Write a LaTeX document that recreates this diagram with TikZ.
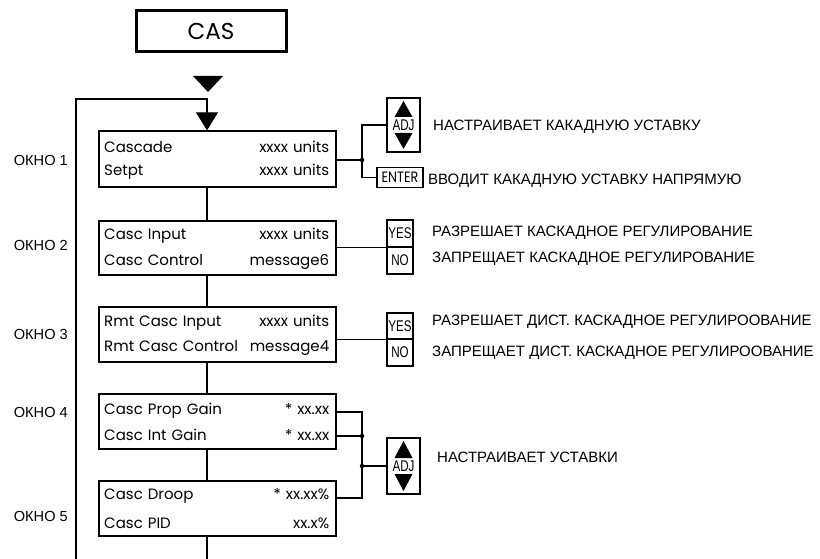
\documentclass[tikz,border=0pt]{standalone}
\usepackage{fontspec}
\setmainfont{Liberation Sans}
\newfontfamily\cad{Poppins}
\newfontfamily\cadnarrow{Poppins}[FakeStretch=0.85]
\newfontfamily\keyfont{Liberation Sans}[FakeStretch=0.75]
\usetikzlibrary{arrows.meta,calc}
\tikzset{
  conn/.style={draw=black, line width=1.1pt},
  winbox/.style={draw=black, line width=1.3pt, minimum width=237pt, inner sep=0pt},
  rowtext/.style={font=\cad\fontsize{15}{17}\selectfont, inner sep=0pt, text width=225pt, anchor=west},
  lbl/.style={font=\fontsize{15}{16}\selectfont, inner sep=0pt, anchor=west},
  okho/.style={font=\fontsize{14.6}{16}\selectfont, inner sep=0pt, anchor=east},
  jdot/.style={circle, fill=black, inner sep=0pt, minimum size=4.5pt},
  keybox/.style={draw=black, line width=1.1pt, inner sep=0pt},
  keytext/.style={font=\keyfont\fontsize{15.5}{16}\selectfont, inner sep=0pt},
  loopend/.style={-{Triangle[width=22pt,length=18pt]}},
}
\begin{document}
\begin{tikzpicture}[x=1pt,y=-1pt]
\useasboundingbox (0,0) rectangle (820,559);

% title
\node[draw=black, line width=3pt, minimum width=150pt, minimum height=41pt, inner sep=0pt,
      font=\cad\fontsize{23}{26}\selectfont] (cas) at (211,31.5) {CAS};
\fill (193,76) -- (223,76) -- (208,92) -- cycle;

% window boxes
\node[winbox, minimum height=56pt] (w1) at (217.5,159) {};
\node[winbox, minimum height=54pt] (w2) at (217.5,248) {};
\node[winbox, minimum height=55pt] (w3) at (217.5,334.5) {};
\node[winbox, minimum height=55pt] (w4) at (217.5,421.5) {};
\node[winbox, minimum height=55pt] (w5) at (217.5,508.5) {};

\node[rowtext] (r1a) at (104,147) {Cascade\hfill xxxx units};
\node[rowtext] (r1b) at (104,172) {Setpt\hfill xxxx units};
\node[rowtext] (r2a) at (104,236) {Casc Input\hfill xxxx units};
\node[rowtext] (r2b) at (104,262) {Casc Control\hfill message6};
\node[rowtext] (r3a) at (104,323) {Rmt Casc Input\hfill xxxx units};
\node[rowtext] (r3b) at (104,348) {Rmt Casc Control\hfill message4};
\node[rowtext] (r4a) at (104,411) {Casc Prop Gain\hfill * xx.xx};
\node[rowtext] (r4b) at (104,435) {Casc Int Gain\hfill * xx.xx};
\node[rowtext] (r5a) at (104,496) {Casc Droop\hfill * xx.xx\%};
\node[rowtext] (r5b) at (104,523) {Casc PID\hfill xx.x\%};

% window labels
\node[okho] (o1) at (68,160) {ОКНО 1};
\node[okho] (o2) at (68,245) {ОКНО 2};
\node[okho] (o3) at (68,334) {ОКНО 3};
\node[okho] (o4) at (68,412) {ОКНО 4};
\node[okho] (o5) at (68,516) {ОКНО 5};

% main flow
\coordinate (cx) at (207,0);
\coordinate (loopbot) at (76,559);
\coordinate (flowbot) at (207,559);
\draw[conn, loopend] (loopbot) -- (76,99) -- (207,99) -- (w1.north -| cx);
\draw[conn] (w1.south -| cx) -- (w2.north -| cx);
\draw[conn] (w2.south -| cx) -- (w3.north -| cx);
\draw[conn] (w3.south -| cx) -- (w4.north -| cx);
\draw[conn] (w4.south -| cx) -- (w5.north -| cx);
\draw[conn] (w5.south -| cx) -- (flowbot);

% window 1 keys
\node[keybox, minimum width=33pt, minimum height=54pt] (adj1) at (403.5,125) {};
\node[keytext] (adj1t) at (adj1.center) {ADJ};
\fill ($(adj1.center)+(-9,-8)$) -- ($(adj1.center)+(9,-8)$) -- ($(adj1.center)+(0,-24)$) -- cycle;
\fill ($(adj1.center)+(-9,8)$) -- ($(adj1.center)+(9,8)$) -- ($(adj1.center)+(0,24)$) -- cycle;
\node[keybox, minimum width=46pt, minimum height=20pt, font=\cadnarrow\fontsize{15}{16}\selectfont] (enter) at (400,177.5) {ENTER};
\coordinate (j1) at (362,160);
\draw[conn] (w1.east |- j1) -- (j1);
\draw[conn] (adj1.west) -| (j1) |- (enter.west);
\node[jdot] at (j1) {};
\node[lbl] (t1a) at (433,127) {НАСТРАИВАЕТ КАКАДНУЮ УСТАВКУ};
\node[lbl] (t1b) at (428,181) {ВВОДИТ КАКАДНУЮ УСТАВКУ НАПРЯМУЮ};

% window 2 keys
\node[keybox, minimum width=26pt, minimum height=27pt] (yes1) at (400,233.5) {};
\node[keybox, minimum width=26pt, minimum height=27pt] (no1) at (400,260.5) {};
\node[keytext] at (yes1.center) {YES};
\node[keytext] at (no1.center) {NO};
\draw[conn] (w2.east |- yes1.south west) -- (yes1.south west);
\node[lbl] (t2a) at (432,233) {РАЗРЕШАЕТ КАСКАДНОЕ РЕГУЛИРОВАНИЕ};
\node[lbl] (t2b) at (432,259) {ЗАПРЕЩАЕТ КАСКАДНОЕ РЕГУЛИРОВАНИЕ};

% window 3 keys
\node[keybox, minimum width=26pt, minimum height=26pt] (yes2) at (400,326) {};
\node[keybox, minimum width=26pt, minimum height=27pt] (no2) at (400,352.5) {};
\node[keytext] at (yes2.center) {YES};
\node[keytext] at (no2.center) {NO};
\draw[conn] (w3.east |- yes2.south west) -- (yes2.south west);
\node[lbl] (t3a) at (432,322) {РАЗРЕШАЕТ ДИСТ. КАСКАДНОЕ РЕГУЛИРООВАНИЕ};
\node[lbl] (t3b) at (432,353) {ЗАПРЕЩАЕТ ДИСТ. КАСКАДНОЕ РЕГУЛИРООВАНИЕ};

% windows 4 and 5 keys
\node[keybox, minimum width=33pt, minimum height=56pt] (adj2) at (403.5,466) {};
\node[keytext] at (adj2.center) {ADJ};
\fill ($(adj2.center)+(-9,-8)$) -- ($(adj2.center)+(9,-8)$) -- ($(adj2.center)+(0,-25)$) -- cycle;
\fill ($(adj2.center)+(-9,8)$) -- ($(adj2.center)+(9,8)$) -- ($(adj2.center)+(0,25)$) -- cycle;
\coordinate (k1) at (362,412);
\coordinate (k3) at (362,498);
\coordinate (j4) at (362,436);
\coordinate (j5) at (362,466);
\draw[conn] (w4.east |- k1) -- (k1) -- (k3) -- (w5.east |- k3);
\draw[conn] (w4.east |- j4) -- (j4);
\draw[conn] (j5) -- (adj2.west);
\node[jdot] at (j4) {};
\node[jdot] at (j5) {};
\node[lbl] (t4) at (437,457) {НАСТРАИВАЕТ УСТАВКИ};
\end{tikzpicture}
\end{document}
